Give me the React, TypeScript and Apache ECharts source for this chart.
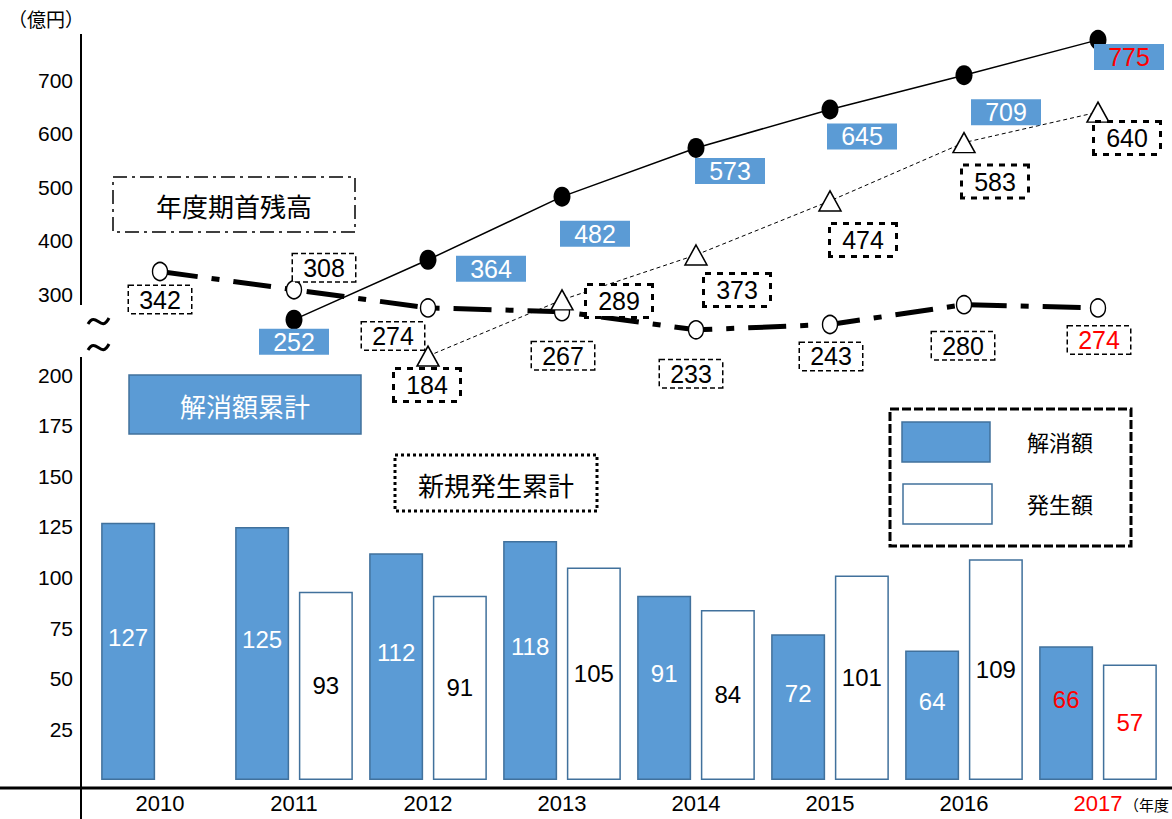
import React, { useEffect, useRef } from 'react';
import * as echarts from 'echarts';

// ---- data ----
const years = ['2010', '2011', '2012', '2013', '2014', '2015', '2016', '2017'];
const kaishoGaku: (number | null)[] = [127, 125, 112, 118, 91, 72, 64, 66]; // 解消額
const hasseiGaku: (number | null)[] = [null, 93, 91, 105, 84, 101, 109, 57]; // 発生額
const kaishoRuikei: (number | null)[] = [null, 252, 364, 482, 573, 645, 709, 775]; // 解消額累計
const kishuZandaka: (number | null)[] = [342, 308, 274, 267, 233, 243, 280, 274]; // 年度期首残高
const shinkiRuikei: (number | null)[] = [null, null, 184, 289, 373, 474, 583, 640]; // 新規発生累計
const upperTickLabels = [300, 400, 500, 600, 700];
const lowerTickLabels = [25, 50, 75, 100, 125, 150, 175, 200];
const highlightIndex = 7; // 2017 shown in red

// ---- label offsets (style only) ----
const ruikeiOffsets = [[0, 0], [0, 22], [63, 9], [33, 37], [34, 23], [32, 27], [42, 37], [31, 17]];
const zandakaOffsets = [[0, 28], [30, -22], [-35, 28], [1, 44], [-5, 44], [1, 32], [-1, 41], [1, 32]];
const shinkiOffsets = [[0, 0], [0, 0], [-1, 29], [57, 1], [41, 35], [33, 39], [31, 39], [29, 26]];

const NUM = "'Liberation Sans Narrow', 'Liberation Sans', Arial, sans-serif";
const JP = "'Noto Sans CJK JP', sans-serif";
const BLUE = '#5B9BD5';
const BLUE_BORDER = '#41719C';
const RED = '#FF0000';

function lineData(values: (number | null)[], offsets: number[][], redLast: boolean) {
  return values.map((v, i) => {
    if (v == null) return '-';
    const item: any = { value: v, label: { offset: offsets[i] } };
    if (redLast && i === highlightIndex) item.label.color = RED;
    return item;
  });
}

function barData(values: (number | null)[]) {
  return values.map((v, i) => {
    if (v == null) return '-';
    if (i === highlightIndex) return { value: v, label: { color: RED } };
    return v;
  });
}

export default function App() {
  const ref = useRef<HTMLDivElement>(null);
  useEffect(() => {
    if (!ref.current) return;
    const chart = echarts.init(ref.current, null, { renderer: 'svg' });
    const option: any = {
      animation: false,
      backgroundColor: '#fff',
      grid: [
        { left: 93, right: 7, top: 375, bottom: 39 },
        { left: 93, right: 7, top: 26.5, bottom: 418 },
      ],
      xAxis: [
        {
          type: 'category',
          gridIndex: 0,
          data: years.map((y, i) => (i === highlightIndex ? { value: y, textStyle: { color: RED } } : y)),
          axisLine: { show: false },
          axisTick: { show: false },
          axisLabel: { color: '#000', fontSize: 22, fontFamily: NUM, margin: 12 },
        },
        {
          type: 'category',
          gridIndex: 1,
          data: years,
          show: false,
        },
      ],
      yAxis: [
        {
          type: 'value',
          gridIndex: 0,
          min: 0,
          max: 200,
          interval: 25,
          offset: 12,
          axisLine: { show: false },
          axisTick: { show: false },
          splitLine: { show: false },
          axisLabel: {
            color: '#000',
            fontSize: 21,
            fontFamily: NUM,
            margin: 8,
            formatter: (v: number) => (lowerTickLabels.includes(v) ? String(v) : ''),
          },
        },
        {
          type: 'value',
          gridIndex: 1,
          min: 100,
          max: 800,
          interval: 100,
          offset: 12,
          axisLine: { show: false },
          axisTick: { show: false },
          splitLine: { show: false },
          axisLabel: {
            color: '#000',
            fontSize: 21,
            fontFamily: NUM,
            margin: 8,
            formatter: (v: number) => (upperTickLabels.includes(v) ? String(v) : ''),
          },
        },
      ],
      series: [
        {
          type: 'bar',
          name: '解消額',
          xAxisIndex: 0,
          yAxisIndex: 0,
          data: barData(kaishoGaku),
          barWidth: 54,
          barGap: '18%',
          itemStyle: { color: BLUE, borderColor: BLUE_BORDER, borderWidth: 1.5 },
          label: { show: true, position: 'inside', offset: [0, -14], color: '#fff', fontSize: 24, fontFamily: NUM },
        },
        {
          type: 'bar',
          name: '発生額',
          xAxisIndex: 0,
          yAxisIndex: 0,
          data: barData(hasseiGaku),
          barWidth: 54,
          barGap: '18%',
          itemStyle: { color: '#fff', borderColor: BLUE_BORDER, borderWidth: 1.5 },
          label: { show: true, position: 'inside', color: '#000', fontSize: 24, fontFamily: NUM },
        },
        {
          type: 'line',
          name: '年度期首残高',
          xAxisIndex: 1,
          yAxisIndex: 1,
          data: lineData(kishuZandaka, zandakaOffsets, true),
          symbol: 'circle',
          symbolSize: [15, 18],
          itemStyle: { color: '#fff', borderColor: '#000', borderWidth: 1.5 },
          lineStyle: { color: '#000', width: 5, type: [38, 14, 8, 14], cap: 'butt' },
          label: {
            show: true,
            position: 'inside',
            color: '#000',
            fontSize: 25,
            fontFamily: NUM,
            backgroundColor: '#fff',
            borderColor: '#000',
            borderWidth: 1.5,
            borderType: [5, 3],
            width: 54,
            height: 23,
            lineHeight: 23,
            padding: [2, 4],
            align: 'center',
            verticalAlign: 'middle',
          },
          z: 3,
        },
        {
          type: 'line',
          name: '新規発生累計',
          xAxisIndex: 1,
          yAxisIndex: 1,
          data: lineData(shinkiRuikei, shinkiOffsets, false),
          symbol: 'triangle',
          symbolSize: [22, 20],
          itemStyle: { color: '#fff', borderColor: '#000', borderWidth: 1.5 },
          lineStyle: { color: '#000', width: 1, type: [4, 3] },
          label: {
            show: true,
            position: 'inside',
            color: '#000',
            fontSize: 25,
            fontFamily: NUM,
            backgroundColor: '#fff',
            borderColor: '#000',
            borderWidth: 3,
            borderType: 'dotted',
            width: 54,
            height: 24,
            lineHeight: 24,
            padding: [3, 5],
            align: 'center',
            verticalAlign: 'middle',
          },
          z: 4,
        },
        {
          type: 'line',
          name: '解消額累計',
          xAxisIndex: 1,
          yAxisIndex: 1,
          data: lineData(kaishoRuikei, ruikeiOffsets, true),
          symbol: 'circle',
          symbolSize: [17, 20],
          itemStyle: { color: '#000' },
          lineStyle: { color: '#000', width: 1.5 },
          label: {
            show: true,
            position: 'inside',
            color: '#fff',
            fontSize: 25,
            fontFamily: NUM,
            backgroundColor: BLUE,
            width: 58,
            height: 24,
            lineHeight: 24,
            padding: [1, 6],
            align: 'center',
            verticalAlign: 'middle',
          },
          z: 5,
        },
      ],
      graphic: [
        { type: 'line', shape: { x1: 81, y1: 34, x2: 81, y2: 305 }, style: { stroke: '#000', lineWidth: 2 } },
        { type: 'line', shape: { x1: 81, y1: 357, x2: 81, y2: 819 }, style: { stroke: '#000', lineWidth: 2 } },
        { type: 'line', shape: { x1: 0, y1: 788, x2: 1172, y2: 788 }, style: { stroke: '#000', lineWidth: 3 } },
        { type: 'text', x: 8, y: 18, style: { text: '（億円）', fontSize: 19, fill: '#000', fontFamily: JP, verticalAlign: 'middle' } },
        { type: 'text', x: 1124, y: 804, style: { text: '（年度', fontSize: 15, fill: '#000', fontFamily: JP, verticalAlign: 'middle' } },
        // axis break marks
        { type: 'bezierCurve', shape: { x1: 88, y1: 324, cpx1: 96, cpy1: 310, cpx2: 101, cpy2: 334, x2: 109, y2: 318 }, style: { stroke: '#000', lineWidth: 3, fill: 'none' } },
        { type: 'bezierCurve', shape: { x1: 88, y1: 350, cpx1: 96, cpy1: 336, cpx2: 101, cpy2: 360, x2: 109, y2: 344 }, style: { stroke: '#000', lineWidth: 3, fill: 'none' } },
        // 年度期首残高 box
        { type: 'rect', shape: { x: 113, y: 177, width: 242, height: 55 }, style: { fill: '#fff', stroke: '#000', lineWidth: 1.5, lineDash: [14, 5, 3, 5] } },
        { type: 'text', x: 234, y: 205, style: { text: '年度期首残高', fontSize: 26, fill: '#000', fontFamily: JP, align: 'center', verticalAlign: 'middle' } },
        // 解消額累計 box
        { type: 'rect', shape: { x: 129, y: 375, width: 232, height: 59 }, style: { fill: BLUE, stroke: BLUE_BORDER, lineWidth: 1.5 } },
        { type: 'text', x: 245, y: 405, style: { text: '解消額累計', fontSize: 26, fill: '#fff', fontFamily: JP, align: 'center', verticalAlign: 'middle' } },
        // 新規発生累計 box
        { type: 'rect', shape: { x: 395, y: 455, width: 202, height: 56 }, style: { fill: '#fff', stroke: '#000', lineWidth: 3, lineDash: [3, 3] } },
        { type: 'text', x: 496, y: 484, style: { text: '新規発生累計', fontSize: 26, fill: '#000', fontFamily: JP, align: 'center', verticalAlign: 'middle' } },
        // legend
        { type: 'rect', shape: { x: 890, y: 409, width: 241, height: 137 }, style: { fill: '#fff', stroke: '#000', lineWidth: 3, lineDash: [9, 3] } },
        { type: 'rect', shape: { x: 902, y: 422, width: 88, height: 40 }, style: { fill: BLUE, stroke: BLUE_BORDER, lineWidth: 1.5 } },
        { type: 'rect', shape: { x: 903, y: 484, width: 89, height: 40 }, style: { fill: '#fff', stroke: BLUE_BORDER, lineWidth: 1.5 } },
        { type: 'text', x: 1060, y: 441, style: { text: '解消額', fontSize: 22, fill: '#000', fontFamily: JP, align: 'center', verticalAlign: 'middle' } },
        { type: 'text', x: 1060, y: 503, style: { text: '発生額', fontSize: 22, fill: '#000', fontFamily: JP, align: 'center', verticalAlign: 'middle' } },
      ],
    };
    chart.setOption(option);
    return () => chart.dispose();
  }, []);
  return <div ref={ref} style={{ position: 'fixed', left: 0, top: 0, width: 1172, height: 819 }} />;
}
